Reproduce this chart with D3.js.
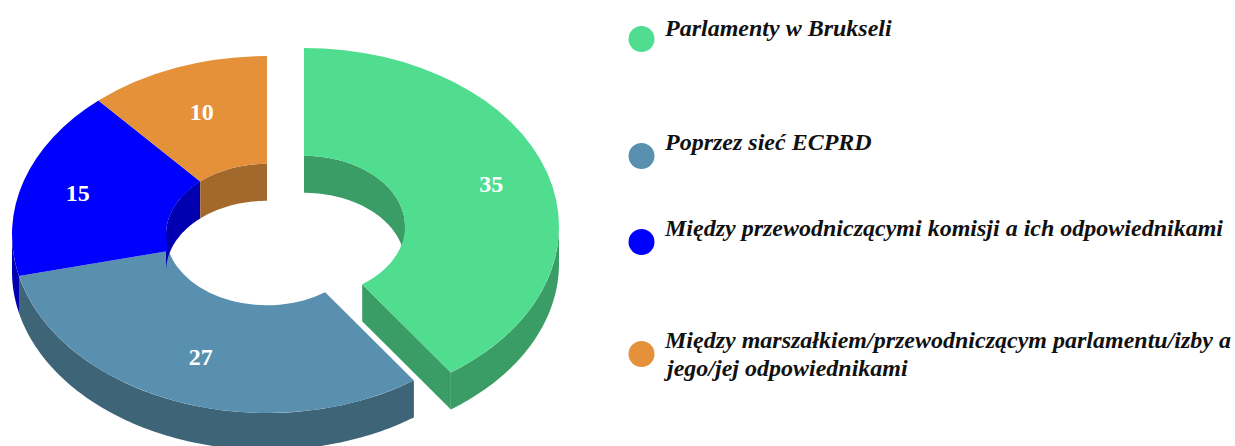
<!DOCTYPE html>
<html><head><meta charset="utf-8">
<script src="https://d3js.org/d3.v7.min.js"></script>
<style>html,body{margin:0;padding:0;background:#fff}svg{display:block}
text{font-family:"Liberation Serif",serif;font-weight:bold}</style>
</head><body><svg id="c" width="1235" height="446"></svg>
<script>
const categories = ["Parlamenty w Brukseli","Poprzez sieć ECPRD","Między przewodniczącymi komisji a ich odpowiednikami","Między marszałkiem/przewodniczącym parlamentu/izby a jego/jej odpowiednikami"];
const values = [35,27,15,10];
const topColors = ["#50DD8F","#5990AF","#0000FF","#E4913A"];
const sideColors = ["#3A9D65","#3E6478","#0000B0","#A3682B"];
const legendLines = [["Parlamenty w Brukseli"],["Poprzez sieć ECPRD"],["Między przewodniczącymi komisji a ich odpowiednikami"],["Między marszałkiem/przewodniczącym parlamentu/izby a","jego/jej odpowiednikami"]];

// layout
const W=1235,H=446, cx=267, cy=234.5, R=255, r=101, tilt=0.7, depth=37;
const explode=[[37,-8],[0,0],[0,0],[0,0]];
const labelNudge=[[0,-1],[3,-6],[-2,0],[4,6]];
const legendY=[39,156,242,354], legendTextY=[36,150,236,348];
const legendX=[665,665,665,665];

const svg=d3.select("#c");
const pie=d3.pie().value(d=>d).sort(null)(values);
const arc=d3.arc().innerRadius(r).outerRadius(R);
const px=(rad,a)=>rad*Math.sin(a), py=(rad,a)=>-rad*Math.cos(a)*tilt;

function wall(rad,a0,a1){
  if(a1<=a0) return null;
  const n=Math.max(2,Math.ceil((a1-a0)*60));
  const s=d3.range(n+1).map(i=>a0+(a1-a0)*i/n);
  const top=s.map(a=>[px(rad,a),py(rad,a)]);
  const bot=s.slice().reverse().map(a=>[px(rad,a),py(rad,a)+depth]);
  return d3.line()(top.concat(bot))+"Z";
}
const clip=(a0,a1,lo,hi)=>[Math.max(a0,lo),Math.min(a1,hi)];
const T=Math.PI*2, Hf=Math.PI/2;
const g=pie.map((d,i)=>svg.append("g").attr("transform",`translate(${cx+explode[i][0]},${cy+explode[i][1]})`));

// inner walls (back half of the hole)
pie.forEach((d,i)=>{
  [[0,Hf],[3*Hf,T]].forEach(([lo,hi])=>{
    const [a,b]=clip(d.startAngle,d.endAngle,lo,hi);
    const p=wall(r,a,b); if(p) g[i].append("path").attr("d",p).attr("fill",sideColors[i]);
  });
});
// outer walls (front half)
pie.forEach((d,i)=>{
  const [a,b]=clip(d.startAngle,d.endAngle,Hf,3*Hf);
  const p=wall(R,a,b); if(p) g[i].append("path").attr("d",p).attr("fill",sideColors[i]);
});
// cut face of the exploded slice
{
  const a=pie[0].endAngle;
  const f=[[px(r,a),py(r,a)],[px(R,a),py(R,a)],[px(R,a),py(R,a)+depth],[px(r,a),py(r,a)+depth]];
  g[0].append("path").attr("d",d3.line()(f)+"Z").attr("fill",sideColors[0]);
}
// top faces
pie.forEach((d,i)=>{
  g[i].append("path").attr("d",arc(d)).attr("transform",`scale(1,${tilt})`).attr("fill",topColors[i]);
});
// value labels
pie.forEach((d,i)=>{
  const a=(d.startAngle+d.endAngle)/2, lr=R*0.77;
  g[i].append("text").attr("x",px(lr,a)+labelNudge[i][0]).attr("y",py(lr,a)+labelNudge[i][1])
    .attr("dy","0.35em").attr("text-anchor","middle").attr("fill","#fff").attr("font-size",24).text(d.data);
});
// legend
categories.forEach((c,i)=>{
  svg.append("circle").attr("cx",641.5).attr("cy",legendY[i]).attr("r",13).attr("fill",topColors[i]);
  legendLines[i].forEach((l,j)=>{
    svg.append("text").attr("x",legendX[i]+(j?2:0)).attr("y",legendTextY[i]+j*28).attr("font-style","italic")
      .attr("font-size",24).attr("fill","#111").text(l);
  });
});
</script></body></html>
